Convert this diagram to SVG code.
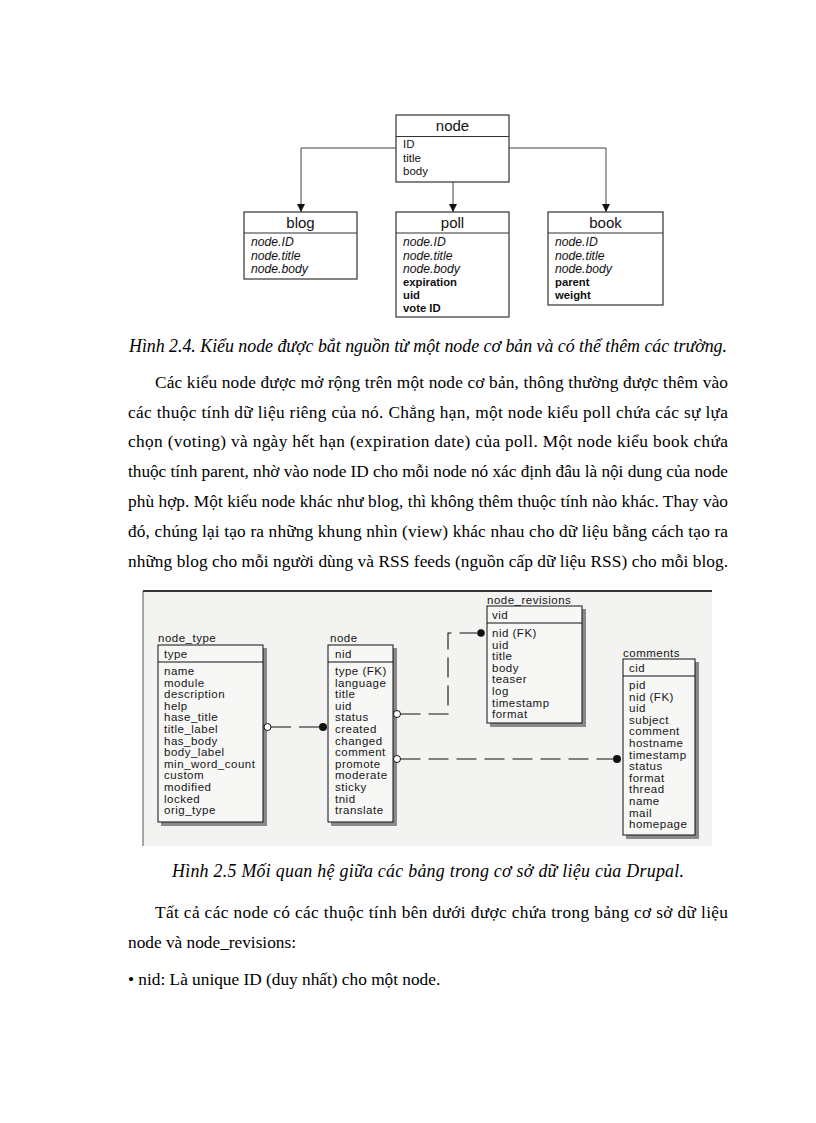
<svg xmlns="http://www.w3.org/2000/svg" width="816" height="1123" viewBox="0 0 816 1123">
<style>
.box{fill:#fff;stroke:#333;stroke-width:1.2}
.div{stroke:#333;stroke-width:1.2}
.ttl{font-family:"Liberation Sans",Arial,sans-serif;font-size:15px;fill:#111;text-anchor:middle}
.fld{font-family:"Liberation Sans",Arial,sans-serif;font-size:11.5px;fill:#111}
.it{font-style:italic;font-size:12.2px}
.bd{font-weight:bold;font-size:11.3px}
.conn{fill:none;stroke:#444;stroke-width:1}
.tb{fill:#f7f7f6;stroke:#111;stroke-width:1}
.sh{fill:#8a8a8a}
.er{font-family:"Liberation Sans",Arial,sans-serif;font-size:11.5px;letter-spacing:0.5px;fill:#151515}
.rel{fill:none;stroke:#111;stroke-width:1.1;stroke-dasharray:20 8}
.body{font-family:"Liberation Serif","Times New Roman",serif;font-size:17.3px;fill:#000}
.cap{font-family:"Liberation Serif","Times New Roman",serif;font-size:17.9px;font-style:italic;fill:#000;text-anchor:middle}
</style>
<defs>
<marker id="arr" markerWidth="8" markerHeight="8" refX="8" refY="4" orient="auto" markerUnits="userSpaceOnUse">
<path d="M0,0 L8,4 L0,8 z" fill="#111"/>
</marker>
</defs>
<rect width="816" height="1123" fill="#fff"/>

<!-- Figure 2.4 -->
<g id="connectors-fig24">
<path class="conn" d="M396,148 H301 V212" marker-end="url(#arr)"/>
<path class="conn" d="M453,182 V212" marker-end="url(#arr)"/>
<path class="conn" d="M509,148 H606 V212" marker-end="url(#arr)"/>
</g>
<g id="n-node">
<rect class="box" x="396" y="115" width="113" height="67"/>
<line class="div" x1="396" y1="136.5" x2="509" y2="136.5"/>
<text class="ttl" x="452.5" y="131">node</text>
<text class="fld" x="403" y="148">ID</text>
<text class="fld" x="403" y="162">title</text>
<text class="fld" x="403" y="175">body</text>
</g>
<g id="n-blog">
<rect class="box" x="244" y="212" width="113" height="67"/>
<line class="div" x1="244" y1="233" x2="357" y2="233"/>
<text class="ttl" x="300.5" y="228">blog</text>
<text class="fld it" x="251" y="246">node.ID</text>
<text class="fld it" x="251" y="260">node.title</text>
<text class="fld it" x="251" y="273">node.body</text>
</g>
<g id="n-poll">
<rect class="box" x="396" y="212" width="113" height="105"/>
<line class="div" x1="396" y1="233" x2="509" y2="233"/>
<text class="ttl" x="452.5" y="228">poll</text>
<text class="fld it" x="403" y="246">node.ID</text>
<text class="fld it" x="403" y="260">node.title</text>
<text class="fld it" x="403" y="273">node.body</text>
<text class="fld bd" x="403" y="286">expiration</text>
<text class="fld bd" x="403" y="299">uid</text>
<text class="fld bd" x="403" y="312">vote ID</text>
</g>
<g id="n-book">
<rect class="box" x="548" y="212" width="115" height="93"/>
<line class="div" x1="548" y1="233" x2="663" y2="233"/>
<text class="ttl" x="605.5" y="228">book</text>
<text class="fld it" x="555" y="246">node.ID</text>
<text class="fld it" x="555" y="260">node.title</text>
<text class="fld it" x="555" y="273">node.body</text>
<text class="fld bd" x="555" y="286">parent</text>
<text class="fld bd" x="555" y="299">weight</text>
</g>

<text class="cap" x="428" y="352" textLength="598" lengthAdjust="spacing">Hình 2.4. Kiểu node được bắt nguồn từ một node cơ bản và có thể thêm các trường.</text>

<g id="para1">
<text class="body" x="155" y="388" textLength="573" lengthAdjust="spacing">Các kiểu node được mở rộng trên một node cơ bản, thông thường được thêm vào</text>
<text class="body" x="128" y="418" textLength="600" lengthAdjust="spacing">các thuộc tính dữ liệu riêng của nó. Chẳng hạn, một node kiểu poll chứa các sự lựa</text>
<text class="body" x="128" y="447" textLength="600" lengthAdjust="spacing">chọn (voting) và ngày hết hạn (expiration date) của poll. Một node kiểu book chứa</text>
<text class="body" x="128" y="477" textLength="600" lengthAdjust="spacing">thuộc tính parent, nhờ vào node ID cho mỗi node nó xác định đâu là nội dung của node</text>
<text class="body" x="128" y="507" textLength="600" lengthAdjust="spacing">phù hợp. Một kiểu node khác như blog, thì không thêm thuộc tính nào khác. Thay vào</text>
<text class="body" x="128" y="537" textLength="600" lengthAdjust="spacing">đó, chúng lại tạo ra những khung nhìn (view) khác nhau cho dữ liệu bằng cách tạo ra</text>
<text class="body" x="128" y="567" textLength="600" lengthAdjust="spacing">những blog cho mỗi người dùng và RSS feeds (nguồn cấp dữ liệu RSS) cho mỗi blog.</text>
</g>

<!-- Figure 2.5 -->
<g id="frame">
<rect x="143" y="591" width="569" height="255" fill="#f3f3f1"/>
<line x1="143" y1="591" x2="712" y2="591" stroke="#333" stroke-width="2"/>
<line x1="143" y1="591" x2="143" y2="846" stroke="#555" stroke-width="1"/>
</g>

<g id="t-node_type">
<rect class="sh" x="161" y="648" width="106" height="178"/>
<rect class="tb" x="158" y="645" width="105" height="177"/>
<line x1="158" y1="662" x2="263" y2="662" stroke="#111"/>
<text class="er" x="158" y="642">node_type</text>
<text class="er" x="164" y="658">type</text>
<text class="er" x="164" y="675">name</text>
<text class="er" x="164" y="686.6">module</text>
<text class="er" x="164" y="698.2">description</text>
<text class="er" x="164" y="709.8">help</text>
<text class="er" x="164" y="721.4">hase_title</text>
<text class="er" x="164" y="733">title_label</text>
<text class="er" x="164" y="744.6">has_body</text>
<text class="er" x="164" y="756.2">body_label</text>
<text class="er" x="164" y="767.8">min_word_count</text>
<text class="er" x="164" y="779.4">custom</text>
<text class="er" x="164" y="791">modified</text>
<text class="er" x="164" y="802.6">locked</text>
<text class="er" x="164" y="814.2">orig_type</text>
</g>

<g id="t-node">
<rect class="sh" x="331" y="648" width="66" height="178"/>
<rect class="tb" x="328" y="645" width="65" height="177"/>
<line x1="328" y1="662" x2="393" y2="662" stroke="#111"/>
<text class="er" x="330" y="642">node</text>
<text class="er" x="335" y="658">nid</text>
<text class="er" x="335" y="675">type (FK)</text>
<text class="er" x="335" y="686.6">language</text>
<text class="er" x="335" y="698.2">title</text>
<text class="er" x="335" y="709.8">uid</text>
<text class="er" x="335" y="721.4">status</text>
<text class="er" x="335" y="733">created</text>
<text class="er" x="335" y="744.6">changed</text>
<text class="er" x="335" y="756.2">comment</text>
<text class="er" x="335" y="767.8">promote</text>
<text class="er" x="335" y="779.4">moderate</text>
<text class="er" x="335" y="791">sticky</text>
<text class="er" x="335" y="802.6">tnid</text>
<text class="er" x="335" y="814.2">translate</text>
</g>

<g id="t-node_revisions">
<rect class="sh" x="490" y="609" width="96" height="118"/>
<rect class="tb" x="487" y="606" width="95" height="117"/>
<line x1="487" y1="623" x2="582" y2="623" stroke="#111"/>
<text class="er" x="487" y="604">node_revisions</text>
<text class="er" x="492" y="619">vid</text>
<text class="er" x="492" y="637">nid (FK)</text>
<text class="er" x="492" y="648.6">uid</text>
<text class="er" x="492" y="660.2">title</text>
<text class="er" x="492" y="671.8">body</text>
<text class="er" x="492" y="683.4">teaser</text>
<text class="er" x="492" y="695">log</text>
<text class="er" x="492" y="706.6">timestamp</text>
<text class="er" x="492" y="718.2">format</text>
</g>

<g id="t-comments">
<rect class="sh" x="626" y="662" width="73" height="177"/>
<rect class="tb" x="623" y="659" width="72" height="176"/>
<line x1="623" y1="676" x2="695" y2="676" stroke="#111"/>
<text class="er" x="623" y="657">comments</text>
<text class="er" x="629" y="672">cid</text>
<text class="er" x="629" y="689">pid</text>
<text class="er" x="629" y="700.6">nid (FK)</text>
<text class="er" x="629" y="712.2">uid</text>
<text class="er" x="629" y="723.8">subject</text>
<text class="er" x="629" y="735.4">comment</text>
<text class="er" x="629" y="747">hostname</text>
<text class="er" x="629" y="758.6">timestamp</text>
<text class="er" x="629" y="770.2">status</text>
<text class="er" x="629" y="781.8">format</text>
<text class="er" x="629" y="793.4">thread</text>
<text class="er" x="629" y="805">name</text>
<text class="er" x="629" y="816.6">mail</text>
<text class="er" x="629" y="828.2">homepage</text>
</g>

<g id="connectors-fig25">
<path class="rel" d="M271,727 H319"/>
<circle cx="267.5" cy="727" r="3.5" fill="#fff" stroke="#111"/>
<circle cx="323" cy="727" r="4" fill="#111"/>
<path class="rel" d="M400.5,714 H448 V633 H477"/>
<circle cx="397" cy="714" r="3.5" fill="#fff" stroke="#111"/>
<circle cx="481" cy="633" r="3.8" fill="#111"/>
<path class="rel" d="M400.5,759 H613"/>
<circle cx="397" cy="759" r="3.5" fill="#fff" stroke="#111"/>
<circle cx="617" cy="759" r="4" fill="#111"/>
</g>

<text class="cap" x="428" y="877" textLength="512" lengthAdjust="spacing">Hình 2.5 Mối quan hệ giữa các bảng trong cơ sở dữ liệu của Drupal.</text>

<g id="para2">
<text class="body" x="155" y="918" textLength="573" lengthAdjust="spacing">Tất cả các node có các thuộc tính bên dưới được chứa trong bảng cơ sở dữ liệu</text>
<text class="body" x="128" y="948">node và node_revisions:</text>
<text class="body" x="128" y="985">• nid: Là unique ID (duy nhất) cho một node.</text>
</g>
</svg>
